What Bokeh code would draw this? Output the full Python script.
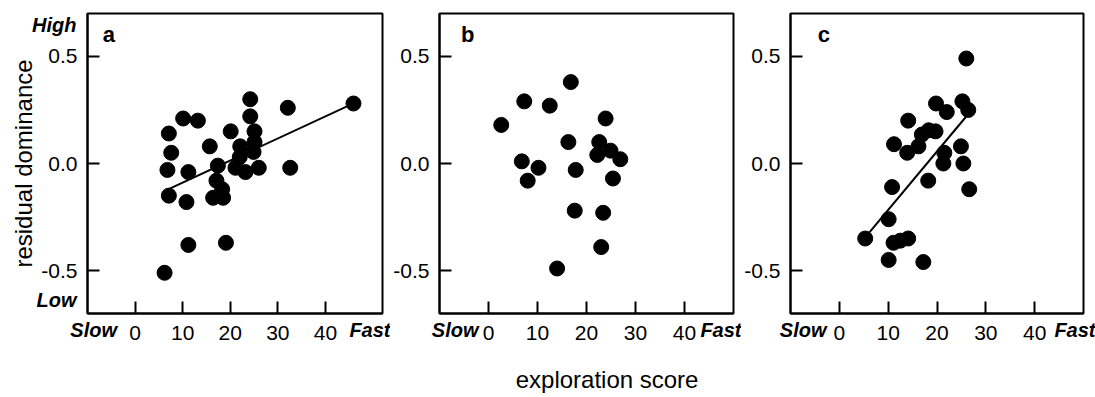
from bokeh.plotting import figure
from bokeh.layouts import row
from bokeh.models import FixedTicker, Label, Range1d, LinearAxis
from bokeh.embed import file_html
from bokeh.resources import INLINE

FONT = "Liberation Sans"

# ---- data ----
a_x = [45.9, 32.1, 24.2, 24.2, 25.1, 25.1, 24.9, 22.1, 22.0, 21.1, 23.2, 26.0, 32.6,
       20.1, 15.7, 17.4, 17.1, 18.3, 16.4, 18.5, 10.1, 13.2, 7.1, 7.6, 6.8, 11.2,
       7.1, 10.8, 11.2, 19.1, 6.2]
a_y = [0.28, 0.26, 0.30, 0.22, 0.15, 0.10, 0.054, 0.08, 0.03, -0.02, -0.04, -0.02, -0.02,
       0.15, 0.08, -0.01, -0.08, -0.12, -0.16, -0.16, 0.21, 0.20, 0.14, 0.05, -0.03, -0.04,
       -0.15, -0.18, -0.38, -0.37, -0.51]

b_x = [2.6, 7.3, 12.5, 16.8, 23.9, 16.3, 22.6, 24.9, 22.2, 26.9, 6.8, 10.2, 8.0, 17.8,
       25.4, 17.6, 23.4, 23.0, 14.0]
b_y = [0.18, 0.29, 0.27, 0.38, 0.21, 0.10, 0.10, 0.06, 0.04, 0.02, 0.01, -0.02, -0.08, -0.03,
       -0.07, -0.22, -0.23, -0.39, -0.49]

c_x = [26.0, 25.2, 26.4, 19.8, 22.0, 14.1, 16.9, 18.3, 19.7, 11.2, 16.2, 13.9, 21.5, 24.9,
       21.3, 25.4, 18.2, 10.8, 26.6, 10.1, 5.3, 11.1, 12.5, 14.1, 10.1, 17.2]
c_y = [0.49, 0.29, 0.25, 0.28, 0.24, 0.20, 0.135, 0.155, 0.15, 0.09, 0.08, 0.05, 0.05, 0.08,
       0.00, 0.00, -0.08, -0.11, -0.12, -0.26, -0.35, -0.37, -0.36, -0.35, -0.45, -0.46]

# regression lines: [intercept, slope] and x extent
fit_a = [-0.192, 0.0103]
fit_a_x = [6.6, 45.9]
fit_c = [-0.490, 0.0273]
fit_c_x = [6.2, 25.9]

x_ticks = [0, 10, 20, 30, 40]
y_ticks = [-0.5, 0.0, 0.5]
y_tick_labels = ["-0.5", "0.0", "0.5"]
x_end_labels = ["Slow", "Fast"]
y_end_labels = ["High", "Low"]
x_title = "exploration score"
y_title = "residual dominance"


def text_axis(ticks, labels, size, style, standoff):
    """An axis with no line and no tick marks: it only writes texts beside the frame."""
    return LinearAxis(ticker=FixedTicker(ticks=ticks, minor_ticks=[]),
                      major_label_overrides={t: s for t, s in zip(ticks, labels)},
                      axis_line_color=None, major_tick_line_color=None,
                      minor_tick_line_color=None,
                      major_tick_in=0, major_tick_out=0, minor_tick_in=0, minor_tick_out=0,
                      major_label_text_font=FONT, major_label_text_font_size=size,
                      major_label_text_font_style=style, major_label_text_color="black",
                      major_label_standoff=standoff)


def make_panel(xs, ys, xmax, width, bl, br, letter, letter_x, end_x):
    p = figure(width=width, height=397,
               x_range=Range1d(-10, xmax), y_range=Range1d(-0.7, 0.7),
               output_backend="svg", toolbar_location=None,
               min_border_left=bl, min_border_right=br,
               min_border_top=13, min_border_bottom=84)
    p.grid.visible = False
    p.outline_line_color = "black"
    p.outline_line_width = 2
    p.xaxis.ticker = FixedTicker(ticks=x_ticks, minor_ticks=[])
    p.yaxis.ticker = FixedTicker(ticks=y_ticks, minor_ticks=[])
    p.yaxis.major_label_overrides = {t: s for t, s in zip(y_ticks, y_tick_labels)}
    for ax in (p.xaxis[0], p.yaxis[0]):
        ax.major_tick_in = 12
        ax.major_tick_out = 0
        ax.minor_tick_line_color = None
        ax.axis_line_width = 2
        ax.major_tick_line_width = 2
        ax.major_label_text_font = FONT
        ax.major_label_text_font_size = "21px"
        ax.major_label_text_color = "black"
    p.xaxis.major_label_standoff = 12
    p.yaxis.major_label_standoff = 10
    p.scatter(xs, ys, size=15, color="black")
    p.add_layout(Label(x=letter_x, y=0.6, text=letter, text_font=FONT,
                       text_font_size="22px", text_font_style="bold", text_color="black",
                       text_baseline="alphabetic", text_align="left"))
    p.add_layout(text_axis(end_x, x_end_labels, "20px", "bold italic", -24), "below")
    return p


pa = make_panel(a_x, a_y, 52, 390, 87, 8, "a", -6.8, [-8.7, 50.8])
pb = make_panel(b_x, b_y, 50, 351, 47, 8, "b", -5.6, [-6.8, 48.4])
pc = make_panel(c_x, c_y, 50, 354, 46, 12, "c", -4.4, [-7.4, 48.4])

pa.line(fit_a_x, [fit_a[0] + fit_a[1] * x for x in fit_a_x], line_width=2, color="black")
pc.line(fit_c_x, [fit_c[0] + fit_c[1] * x for x in fit_c_x], line_width=2, color="black")

pa.yaxis.axis_label = y_title
pa.yaxis.axis_label_text_font = FONT
pa.yaxis.axis_label_text_font_size = "24px"
pa.yaxis.axis_label_text_font_style = "normal"
pa.yaxis.axis_label_text_color = "black"
pa.yaxis.axis_label_standoff = 1

pa.add_layout(text_axis([0.645, -0.639], y_end_labels, "20px", "bold italic", -69), "left")
pb.add_layout(text_axis([24.2], [x_title], "24px", "normal", 22), "below")

layout = row(pa, pb, pc)
open("out.html", "w").write(file_html(layout, INLINE))
